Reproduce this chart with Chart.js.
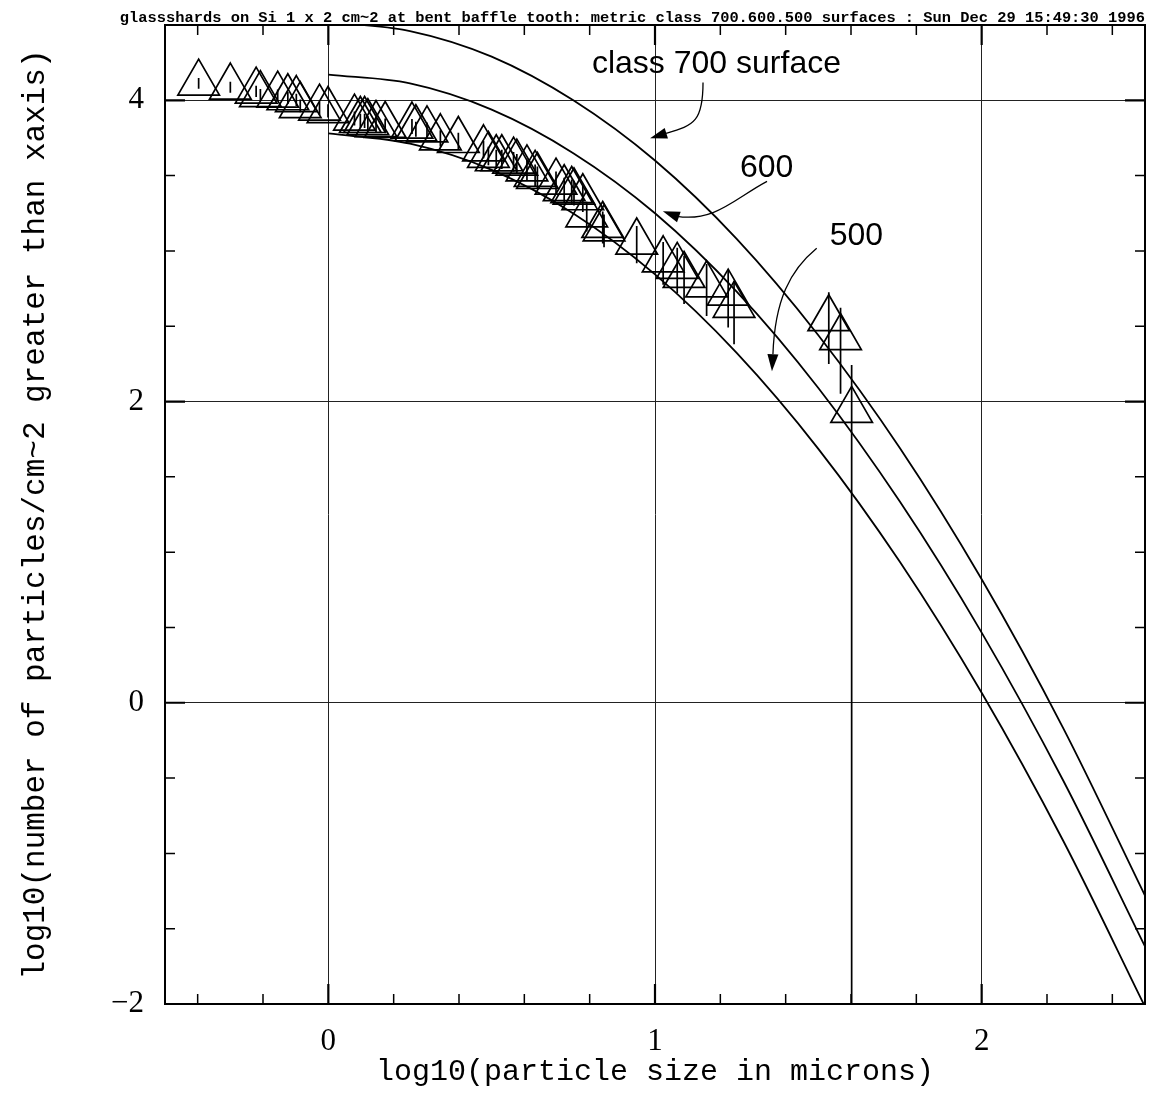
<!DOCTYPE html>
<html><head><meta charset="utf-8">
<script src="https://cdn.jsdelivr.net/npm/chart.js@4.4.1/dist/chart.umd.min.js"></script>
<style>html,body{margin:0;padding:0;background:#fff}canvas{display:block}</style>
</head><body>
<canvas id="c" width="1151" height="1109" style="width:1151px;height:1109px"></canvas>
<script>
const TITLE = "glassshards on Si 1 x 2 cm~2 at bent baffle tooth: metric class 700.600.500 surfaces : Sun Dec 29 15:49:30 1996";
const X_TITLE = "log10(particle size in microns)";
const Y_TITLE = "log10(number of particles/cm~2 greater than xaxis)";

// class curves
const curveX   = [0, 0.25, 0.5, 0.75, 1, 1.25, 1.5, 1.75, 2, 2.25, 2.5];
const class700 = [4.52, 4.46, 4.29, 4.00, 3.60, 3.08, 2.44, 1.69, 0.82, -0.17, -1.28];
const class600 = [4.17, 4.112, 3.938, 3.649, 3.25, 2.73, 2.09, 1.334, 0.466, -0.518, -1.618];
const class500 = [3.78, 3.712, 3.538, 3.249, 2.844, 2.323, 1.686, 0.934, 0.066, -0.918, -2.018];

// measured points (triangles) with error bars
const pointX = [-0.397,-0.300,-0.221,-0.208,-0.155,-0.124,-0.098,-0.086,-0.027,-0.001,
  0.080,0.098,0.111,0.121,0.146,0.174,0.256,0.268,0.302,0.343,
  0.398,0.475,0.490,0.514,0.531,0.567,0.577,0.608,0.633,0.640,
  0.697,0.722,0.745,0.752,0.779,0.791,0.840,0.844,0.944,1.025,
  1.068,1.089,1.158,1.224,1.242,1.532,1.568,1.602];
const pointY = [4.114,4.088,4.061,4.038,4.034,4.017,4.005,3.965,3.948,3.932,
  3.882,3.866,3.866,3.851,3.839,3.833,3.829,3.811,3.804,3.751,
  3.733,3.678,3.634,3.612,3.612,3.596,3.583,3.545,3.508,3.494,
  3.457,3.413,3.401,3.391,3.353,3.239,3.169,3.147,3.059,2.941,
  2.897,2.837,2.775,2.720,2.638,2.550,2.425,1.941];
const errUp = [0.034,0.035,0.036,0.037,0.037,0.038,0.038,0.040,0.041,0.042,
  0.044,0.045,0.045,0.045,0.046,0.046,0.047,0.047,0.048,0.050,
  0.051,0.054,0.057,0.059,0.059,0.060,0.061,0.063,0.066,0.067,
  0.070,0.073,0.074,0.075,0.078,0.087,0.092,0.094,0.106,0.119,
  0.124,0.131,0.139,0.149,0.160,0.176,0.198,0.301];
const errDown = [0.037,0.038,0.039,0.040,0.040,0.041,0.042,0.044,0.045,0.046,
  0.049,0.050,0.050,0.051,0.052,0.052,0.052,0.053,0.054,0.057,
  0.058,0.062,0.066,0.068,0.068,0.070,0.071,0.074,0.077,0.079,
  0.083,0.088,0.089,0.090,0.095,0.110,0.119,0.122,0.141,0.166,
  0.176,0.190,0.207,0.228,0.257,0.301,0.374,4.5];

// tick positions
const xMajorTicks = [0, 1, 2];
const xMinorTicks = [-0.4,-0.2,0.2,0.4,0.6,0.8,1.2,1.4,1.6,1.8,2.2,2.4];
const yMajorTicks = [-2, 0, 2, 4];
const yMinorTicks = [-1.5,-1,-0.5,0.5,1,1.5,2.5,3,3.5];

const toXY = (xs, ys) => xs.map((v, i) => ({x: v, y: ys[i]}));
const errData = [];
pointX.forEach((v, i) => {
  errData.push({x: v, y: pointY[i] + errUp[i]});
  errData.push({x: v, y: pointY[i] - errDown[i]});
  errData.push({x: v, y: null});
});
const fmt = v => v < 0 ? '\u2212' + Math.abs(v) : String(v);

const notes = [
  {text: 'class 700 surface', at: [0.807, 4.179],
   path: [[1.147, 4.119], [1.147, 3.867], [1.122, 3.834], [1.034, 3.781]], tip: [0.985, 3.748]},
  {text: '600', at: [1.260, 3.489],
   path: [[1.343, 3.462], [1.245, 3.350], [1.183, 3.190], [1.067, 3.230]], tip: [1.024, 3.263]},
  {text: '500', at: [1.535, 3.038],
   path: [[1.495, 3.018], [1.413, 2.872], [1.367, 2.673], [1.361, 2.314]], tip: [1.358, 2.201]}
];

const decor = {
  id: 'decor',
  afterDraw(chart) {
    const {ctx, chartArea: a, scales: {x, y}} = chart;
    ctx.save();
    ctx.strokeStyle = '#000';
    ctx.fillStyle = '#000';
    const xt = (v, len, w) => {
      const px = x.getPixelForValue(v);
      ctx.lineWidth = w;
      ctx.beginPath();
      ctx.moveTo(px, a.bottom); ctx.lineTo(px, a.bottom - len);
      ctx.moveTo(px, a.top); ctx.lineTo(px, a.top + len);
      ctx.stroke();
    };
    const yt = (v, len, w) => {
      const py = y.getPixelForValue(v);
      ctx.lineWidth = w;
      ctx.beginPath();
      ctx.moveTo(a.left, py); ctx.lineTo(a.left + len, py);
      ctx.moveTo(a.right, py); ctx.lineTo(a.right - len, py);
      ctx.stroke();
    };
    xMinorTicks.forEach(v => xt(v, 10, 1.5));
    xMajorTicks.forEach(v => xt(v, 20, 2.2));
    yMinorTicks.forEach(v => yt(v, 10, 1.5));
    yMajorTicks.forEach(v => yt(v, 20, 2.2));
    ctx.lineWidth = 2;
    ctx.strokeRect(a.left, a.top, a.right - a.left, a.bottom - a.top);
    ctx.font = 'bold 15.4px "Liberation Mono"';
    ctx.textAlign = 'right';
    ctx.textBaseline = 'alphabetic';
    ctx.fillText(TITLE, a.right, 22);
    ctx.font = '32px "Liberation Sans"';
    ctx.textAlign = 'left';
    notes.forEach(n => {
      ctx.fillText(n.text, x.getPixelForValue(n.at[0]), y.getPixelForValue(n.at[1]));
      const p = n.path.map(q => [x.getPixelForValue(q[0]), y.getPixelForValue(q[1])]);
      const t = [x.getPixelForValue(n.tip[0]), y.getPixelForValue(n.tip[1])];
      ctx.lineWidth = 1.3;
      ctx.beginPath();
      ctx.moveTo(p[0][0], p[0][1]);
      ctx.bezierCurveTo(p[1][0], p[1][1], p[2][0], p[2][1], p[3][0], p[3][1]);
      ctx.stroke();
      let dx = t[0] - p[3][0], dy = t[1] - p[3][1];
      const L = Math.hypot(dx, dy); dx /= L; dy /= L;
      const bx = t[0] - dx * 17, by = t[1] - dy * 17;
      ctx.beginPath();
      ctx.moveTo(t[0], t[1]);
      ctx.lineTo(bx - dy * 5.5, by + dx * 5.5);
      ctx.lineTo(bx + dy * 5.5, by - dx * 5.5);
      ctx.closePath();
      ctx.fill();
    });
    ctx.restore();
  }
};

const curveStyle = {showLine: true, pointRadius: 0, borderColor: '#000', borderWidth: 1.8,
  cubicInterpolationMode: 'monotone', fill: false};

new Chart(document.getElementById('c'), {
  type: 'scatter',
  data: {
    datasets: [
      Object.assign({label: 'class 700', data: toXY(curveX, class700)}, curveStyle),
      Object.assign({label: 'class 600', data: toXY(curveX, class600)}, curveStyle),
      Object.assign({label: 'class 500', data: toXY(curveX, class500)}, curveStyle),
      {label: 'errors', data: errData, showLine: true, spanGaps: false, pointRadius: 0,
       borderColor: '#000', borderWidth: 1.7},
      {label: 'glass shards', data: toXY(pointX, pointY), pointStyle: 'triangle', pointRadius: 24,
       pointBorderWidth: 1.7, pointBorderColor: '#000', pointBackgroundColor: 'rgba(0,0,0,0)', showLine: false}
    ]
  },
  options: {
    responsive: false, animation: false, devicePixelRatio: 1,
    layout: {autoPadding: false, padding: {top: 25, right: 6, left: 0, bottom: 0}},
    plugins: {legend: {display: false}, tooltip: {enabled: false}, title: {display: false}},
    scales: {
      x: {
        type: 'linear', min: -0.5, max: 2.5, position: 'bottom',
        afterBuildTicks: s => { s.ticks = xMajorTicks.map(v => ({value: v})); },
        afterFit: s => { s.height = 105; s.paddingLeft = 0; s.paddingRight = 0; s.paddingTop = 0; s.paddingBottom = 0; },
        grid: {drawTicks: false, color: '#222', lineWidth: 1},
        border: {display: false},
        ticks: {padding: 19, maxRotation: 0, autoSkip: false, color: '#000',
                font: {family: 'Liberation Serif', size: 31}, callback: v => fmt(v)},
        title: {display: true, text: X_TITLE, color: '#000',
                font: {family: 'Liberation Mono', size: 30}, padding: {top: 0, bottom: 19}}
      },
      y: {
        type: 'linear', min: -2, max: 4.5,
        afterBuildTicks: s => { s.ticks = yMajorTicks.map(v => ({value: v})); },
        afterFit: s => { s.width = 165; s.paddingLeft = 0; s.paddingRight = 0; s.paddingTop = 0; s.paddingBottom = 0; },
        grid: {drawTicks: false, color: '#222', lineWidth: 1},
        border: {display: false},
        ticks: {padding: 21, autoSkip: false, color: '#000',
                font: {family: 'Liberation Serif', size: 31}, callback: v => fmt(v)},
        title: {display: true, text: Y_TITLE, color: '#000',
                font: {family: 'Liberation Mono', size: 31}, padding: {top: 17, bottom: 0}}
      }
    }
  },
  plugins: [decor]
});
</script>
</body></html>
